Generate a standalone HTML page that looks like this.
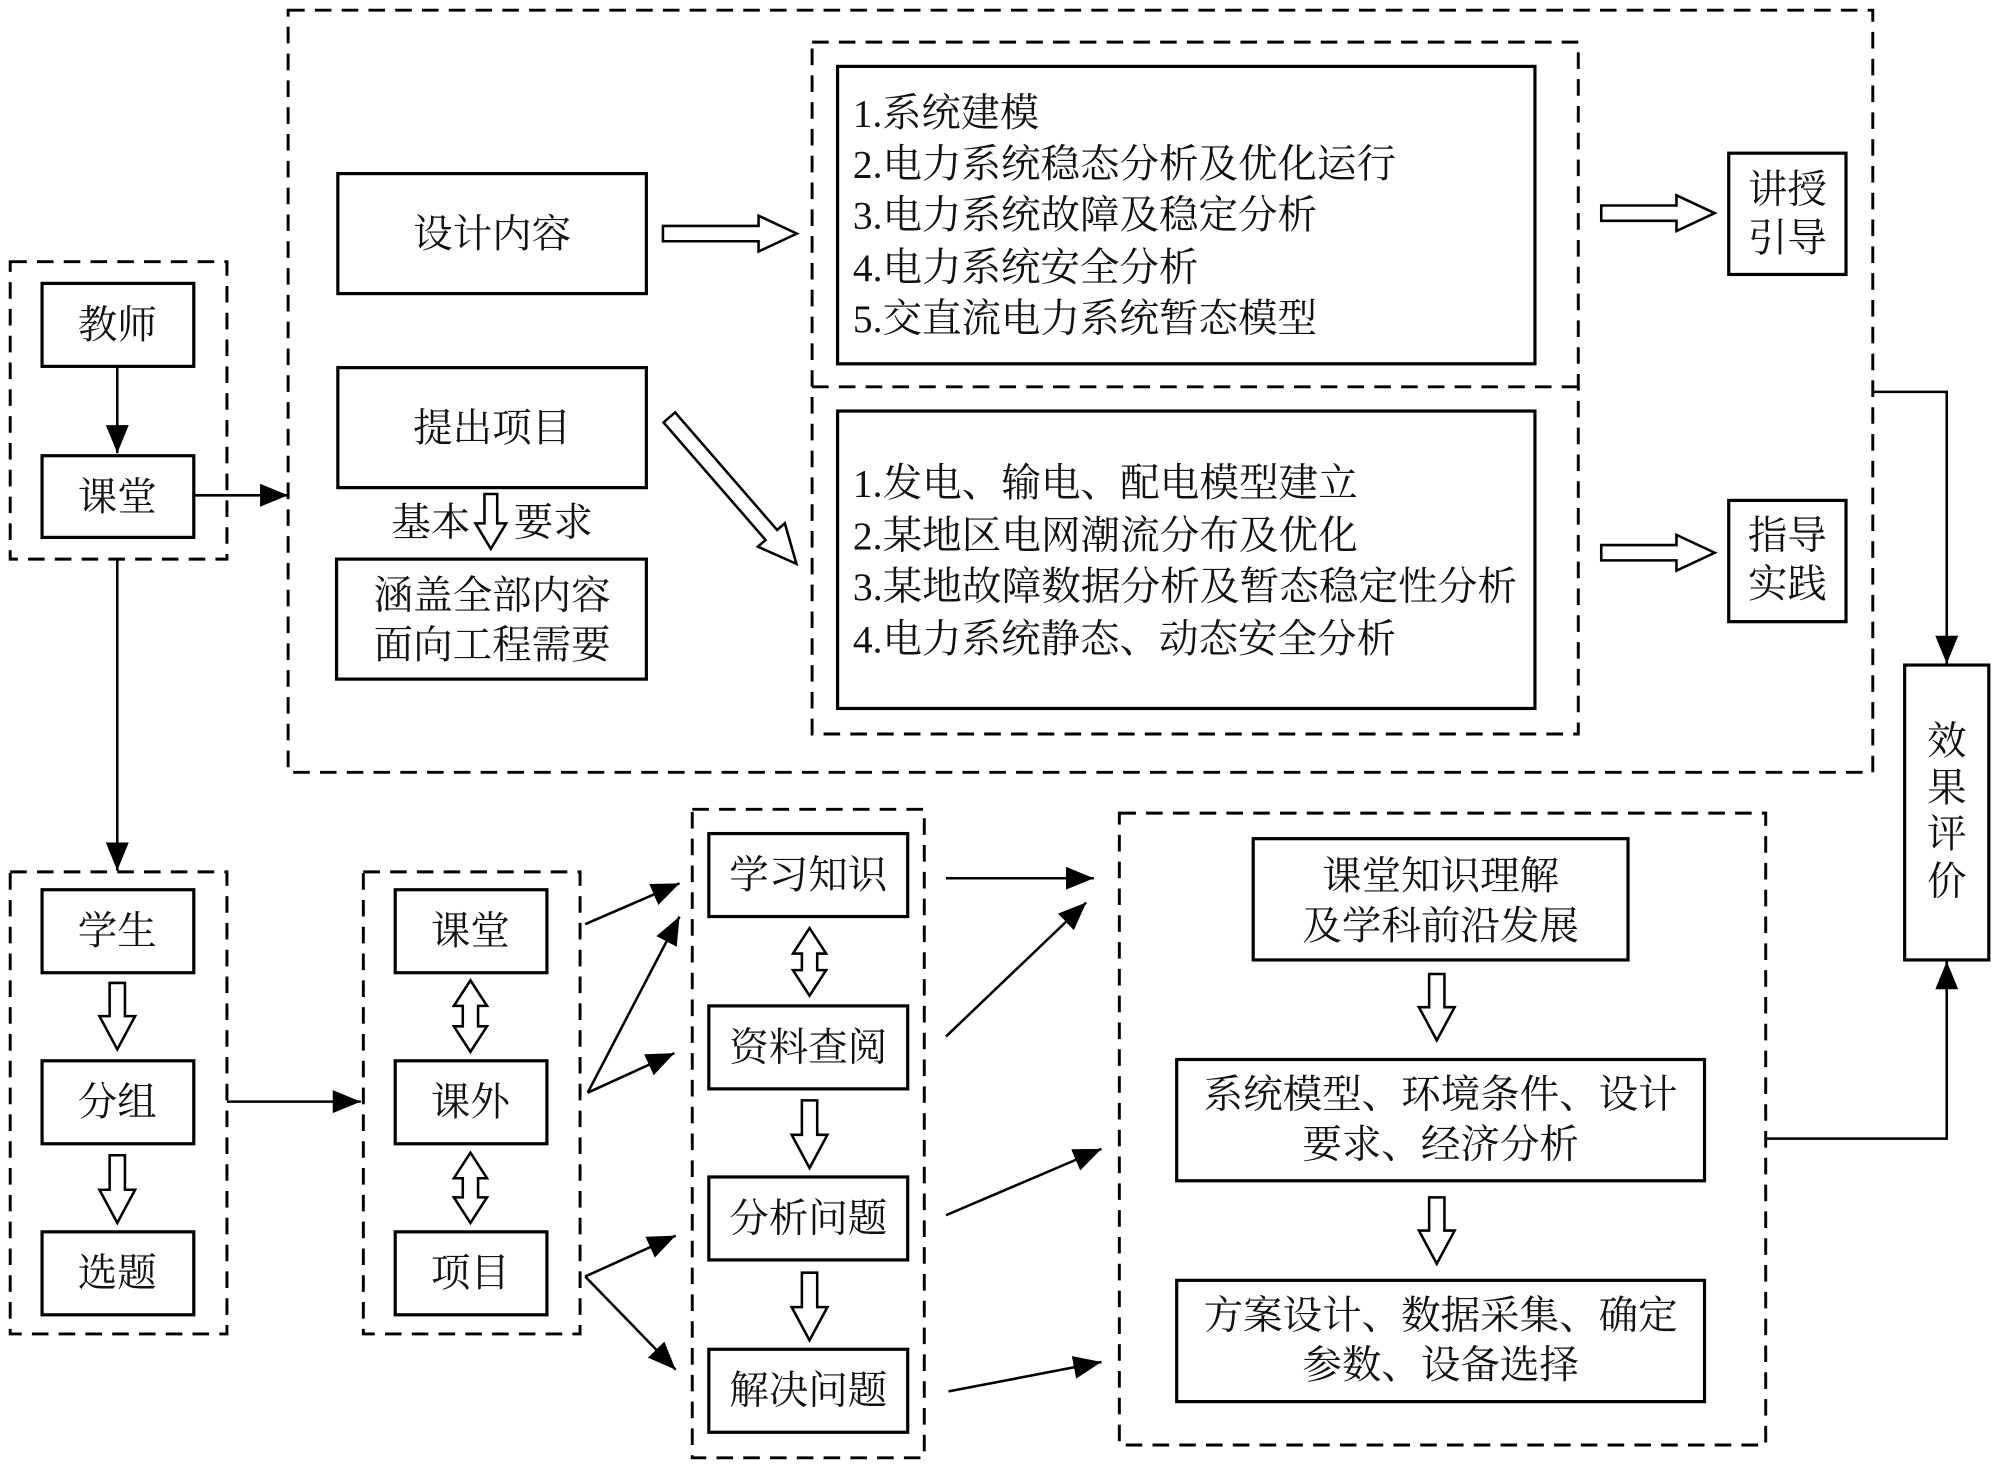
<!DOCTYPE html>
<html><head><meta charset="utf-8"><style>
html,body{margin:0;padding:0;background:#fff;}
svg{display:block;}
text{font-family:"Liberation Serif","Noto Serif CJK SC",serif;font-size:31px;fill:#111;}
</style></head><body>
<svg width="1999" height="1468" viewBox="0 0 1568 1150" preserveAspectRatio="none" xmlns="http://www.w3.org/2000/svg">
<defs>
<marker id="ah" markerUnits="userSpaceOnUse" markerWidth="24" markerHeight="20" refX="22" refY="9" orient="auto">
<path d="M0,0 L22,9 L0,18 Z" fill="#000"/>
</marker>
</defs>
<g fill="none" stroke="#000" stroke-width="2">
<g stroke-dasharray="13,8" stroke-width="2.3">
<rect x="226" y="8" width="1243" height="597"/>
<rect x="637" y="33" width="601" height="542"/>
<line x1="637" y1="303" x2="1238" y2="303"/>
<rect x="8" y="205" width="170" height="233"/>
<rect x="8" y="683" width="170" height="362"/>
<rect x="285" y="683" width="170" height="362"/>
<rect x="543" y="634" width="182" height="508"/>
<rect x="878" y="637" width="507" height="495"/>
</g>
<g stroke-width="2.5">
<rect x="657" y="52" width="547" height="233"/>
<rect x="657" y="322" width="547" height="233"/>
<rect x="265" y="136" width="242" height="94"/>
<rect x="265" y="288" width="242" height="94"/>
<rect x="264" y="438" width="243" height="94"/>
<rect x="1356" y="120" width="92" height="95"/>
<rect x="1356" y="392" width="92" height="95"/>
<rect x="1494" y="521" width="66" height="231"/>
<rect x="33" y="222" width="119" height="65"/>
<rect x="33" y="357" width="119" height="64"/>
<rect x="33" y="697" width="119" height="65"/>
<rect x="33" y="831" width="119" height="65"/>
<rect x="33" y="965" width="119" height="65"/>
<rect x="310" y="697" width="119" height="65"/>
<rect x="310" y="831" width="119" height="65"/>
<rect x="310" y="965" width="119" height="65"/>
<rect x="556" y="653" width="156" height="65"/>
<rect x="556" y="788" width="156" height="65"/>
<rect x="556" y="922" width="156" height="65"/>
<rect x="556" y="1057" width="156" height="65"/>
<rect x="983" y="657" width="294" height="95"/>
<rect x="923" y="830" width="414" height="95"/>
<rect x="923" y="1003" width="414" height="95"/>
</g>
<g marker-end="url(#ah)">
<line x1="92" y1="287" x2="92" y2="355"/>
<line x1="152" y1="388" x2="226" y2="388"/>
<line x1="92" y1="438" x2="92" y2="682"/>
<line x1="178" y1="863" x2="283" y2="863"/>
<line x1="459" y1="724" x2="533" y2="692"/>
<line x1="461" y1="856" x2="533" y2="718"/>
<line x1="461" y1="856" x2="529" y2="825"/>
<line x1="459" y1="1000" x2="530" y2="968"/>
<line x1="459" y1="1000" x2="530" y2="1073"/>
<line x1="742" y1="688" x2="858" y2="688"/>
<line x1="742" y1="812" x2="852" y2="707"/>
<line x1="742" y1="952" x2="864" y2="900"/>
<line x1="744" y1="1090" x2="864" y2="1067"/>
<polyline points="1469,307 1527,307 1527,520"/>
<polyline points="1385,892 1527,892 1527,753"/>
</g>
<g stroke-width="2">
<polygon points="520,177 595,177 595,169 625,183 595,197 595,189 520,189"/>
<polygon points="1256,161 1315,161 1315,153 1345,167 1315,181 1315,173 1256,173"/>
<polygon points="1256,427 1315,427 1315,419 1345,433 1315,447 1315,439 1256,439"/>
<g transform="translate(525,327) rotate(49)"><polygon points="0,-6 122,-6 122,-14 152,0 122,14 122,6 0,6"/></g>
<polygon points="380,387 390,387 390,410 397,410 385,430 373,410 380,410"/>
<polygon points="86,770 98,770 98,796 106,796 92,822 78,796 86,796"/>
<polygon points="86,905 98,905 98,932 106,932 92,958 78,932 86,932"/>
<polygon points="629,862 641,862 641,889 649,889 635,915 621,889 629,889"/>
<polygon points="629,997 641,997 641,1024 649,1024 635,1050 621,1024 629,1024"/>
<polygon points="1121,763 1133,763 1133,789 1141,789 1127,815 1113,789 1121,789"/>
<polygon points="1121,938 1133,938 1133,964 1141,964 1127,990 1113,964 1121,964"/>
<polygon points="369,768 382,788 375,788 375,804 382,804 369,824 356,804 363,804 363,788 356,788"/>
<polygon points="369,903 382,923 375,923 375,938 382,938 369,958 356,938 363,938 363,923 356,923"/>
<polygon points="635,727 648,747 641,747 641,760 648,760 635,780 622,760 629,760 629,747 622,747"/>
</g>
</g>
<g>
<text x="669" y="99" textLength="146" lengthAdjust="spacingAndGlyphs">1.系统建模</text>
<text x="669" y="139" textLength="426" lengthAdjust="spacingAndGlyphs">2.电力系统稳态分析及优化运行</text>
<text x="669" y="179" textLength="364" lengthAdjust="spacingAndGlyphs">3.电力系统故障及稳定分析</text>
<text x="669" y="220" textLength="271" lengthAdjust="spacingAndGlyphs">4.电力系统安全分析</text>
<text x="669" y="260" textLength="364" lengthAdjust="spacingAndGlyphs">5.交直流电力系统暂态模型</text>
<text x="669" y="389" textLength="396" lengthAdjust="spacingAndGlyphs">1.发电、输电、配电模型建立</text>
<text x="669" y="430" textLength="396" lengthAdjust="spacingAndGlyphs">2.某地区电网潮流分布及优化</text>
<text x="669" y="470" textLength="521" lengthAdjust="spacingAndGlyphs">3.某地故障数据分析及暂态稳定性分析</text>
<text x="669" y="511" textLength="426" lengthAdjust="spacingAndGlyphs">4.电力系统静态、动态安全分析</text>
</g>
<g text-anchor="middle">
<text x="386" y="194">设计内容</text>
<text x="386" y="346">提出项目</text>
<text x="338" y="420">基本</text>
<text x="434" y="420">要求</text>
<text x="386" y="477">涵盖全部内容</text>
<text x="386" y="516">面向工程需要</text>
<text x="1402" y="159">讲授</text>
<text x="1402" y="197">引导</text>
<text x="1402" y="430">指导</text>
<text x="1402" y="468">实践</text>
<text x="1527" y="591">效</text>
<text x="1527" y="628">果</text>
<text x="1527" y="664">评</text>
<text x="1527" y="701">价</text>
<text x="92" y="265">教师</text>
<text x="92" y="400">课堂</text>
<text x="92" y="740">学生</text>
<text x="92" y="874">分组</text>
<text x="92" y="1008">选题</text>
<text x="369" y="740">课堂</text>
<text x="369" y="874">课外</text>
<text x="369" y="1008">项目</text>
<text x="634" y="696">学习知识</text>
<text x="634" y="831">资料查阅</text>
<text x="634" y="965">分析问题</text>
<text x="634" y="1100">解决问题</text>
<text x="1130" y="697">课堂知识理解</text>
<text x="1130" y="736">及学科前沿发展</text>
<text x="1130" y="868">系统模型、环境条件、设计</text>
<text x="1130" y="907">要求、经济分析</text>
<text x="1130" y="1041">方案设计、数据采集、确定</text>
<text x="1130" y="1080">参数、设备选择</text>
</g>
</svg>
</body></html>
